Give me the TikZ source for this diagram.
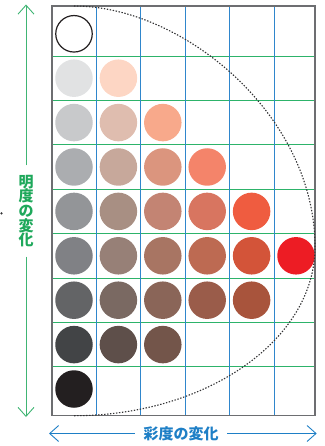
\documentclass[tikz,border=0pt]{standalone}
\usepackage{fontspec}
\newfontfamily\cjk{Noto Sans CJK JP}
\usetikzlibrary{arrows.meta}
\definecolor{gline}{HTML}{2DB36A}
\definecolor{bline}{HTML}{2F86CC}
\definecolor{gtext}{HTML}{1EA85B}
\definecolor{btext}{HTML}{1E7FC6}
\definecolor{frame}{HTML}{6D6E71}
\definecolor{curve}{HTML}{333335}
\definecolor{k11}{HTML}{231F20}
\definecolor{k21}{HTML}{E1E2E3}\definecolor{k22}{HTML}{FDD6C4}
\definecolor{k31}{HTML}{C8C9CB}\definecolor{k32}{HTML}{DFBDAF}\definecolor{k33}{HTML}{F8A98B}
\definecolor{k41}{HTML}{ABADB0}\definecolor{k42}{HTML}{C7A89B}\definecolor{k43}{HTML}{DB957E}\definecolor{k44}{HTML}{F4846A}
\definecolor{k51}{HTML}{939598}\definecolor{k52}{HTML}{A88F83}\definecolor{k53}{HTML}{C38473}\definecolor{k54}{HTML}{D87560}\definecolor{k55}{HTML}{EF5C40}
\definecolor{k61}{HTML}{808185}\definecolor{k62}{HTML}{978077}\definecolor{k63}{HTML}{A87563}\definecolor{k64}{HTML}{BD6A52}\definecolor{k65}{HTML}{D35439}\definecolor{k66}{HTML}{ED1C24}
\definecolor{k71}{HTML}{636466}\definecolor{k72}{HTML}{7A6962}\definecolor{k73}{HTML}{8A6558}\definecolor{k74}{HTML}{9A5C4A}\definecolor{k75}{HTML}{A8543C}
\definecolor{k81}{HTML}{424446}\definecolor{k82}{HTML}{5E4F4A}\definecolor{k83}{HTML}{73554A}
\definecolor{k91}{HTML}{231F20}
\begin{document}
\begin{tikzpicture}[x=1pt,y=-1pt,
  dot/.style={circle,minimum size=37.5pt,inner sep=0pt,draw=none},
  hline/.style={draw=gline,line width=0.9pt},
  vline/.style={draw=bline,line width=0.9pt},
  garrow/.style={draw=gtext!85!white,line width=0.9pt,-{Straight Barb[length=9pt,width=16pt]}},
  barrow/.style={draw=btext,line width=0.9pt,-{Straight Barb[length=9pt,width=16pt]}},
  lbl/.style={font=\cjk\bfseries\fontsize{15}{14.6}\selectfont,inner sep=0pt}]
\useasboundingbox (0,0) rectangle (324,446);
% grid lines
\foreach \k in {1,...,8}{
  \draw[hline] (52,{11.6+44.4*\k}) -- (315,{11.6+44.4*\k});
}
\foreach \k in {1,...,5}{
  \draw[vline] ({52+44.4*\k},6) -- ({52+44.4*\k},415.7);
}
\draw[draw=frame,line width=1.4pt] (52,6) rectangle (315,415.7);
% circles
\node[dot,fill=white,draw=k11,line width=1.2pt,minimum size=36.5pt] (c11) at (74,33.8) {};
\foreach \i/\n in {2/2,3/3,4/4,5/5,6/6,7/5,8/3,9/1}{
  \foreach \j in {1,...,\n}{
    \node[dot,fill=k\i\j] (c\i\j) at ({74+44.4*(\j-1)},{33.8+44.4*(\i-1)}) {};
  }
}
% dotted curve
\coordinate (ctop) at (74,6);
\coordinate (cmid) at (315,247);
\coordinate (cbot) at (74,415.7);
\draw[curve,line width=1.1pt,dash pattern=on 1.4pt off 1.6pt]
  (ctop) .. controls (182.5,6) and (315,114.5) .. (cmid)
         .. controls (315,339.8) and (206.6,415.7) .. (cbot);
% vertical label and arrow
\node[lbl,text=gtext,align=center,inner ysep=9.5pt] (gl) at (26,211) {明\\度\\の\\変\\化};
\coordinate (gtop) at (26,4.5);
\coordinate (gbot) at (26,417);
\draw[garrow] (gl.north) -- (gtop);
\draw[garrow] (gl.south) -- (gbot);
% horizontal label and arrow
\node[lbl,text=btext,inner xsep=8.5pt] (bl) at (181,433.5) {彩度の変化};
\coordinate (bleft) at (49,433.5);
\coordinate (bright) at (316.7,433.5);
\draw[barrow] (bl.west) -- (bleft);
\draw[barrow] (bl.east) -- (bright);
% small mark at left edge
\fill[curve] (1.5,213.3) circle (1.2pt);
\end{tikzpicture}
\end{document}
